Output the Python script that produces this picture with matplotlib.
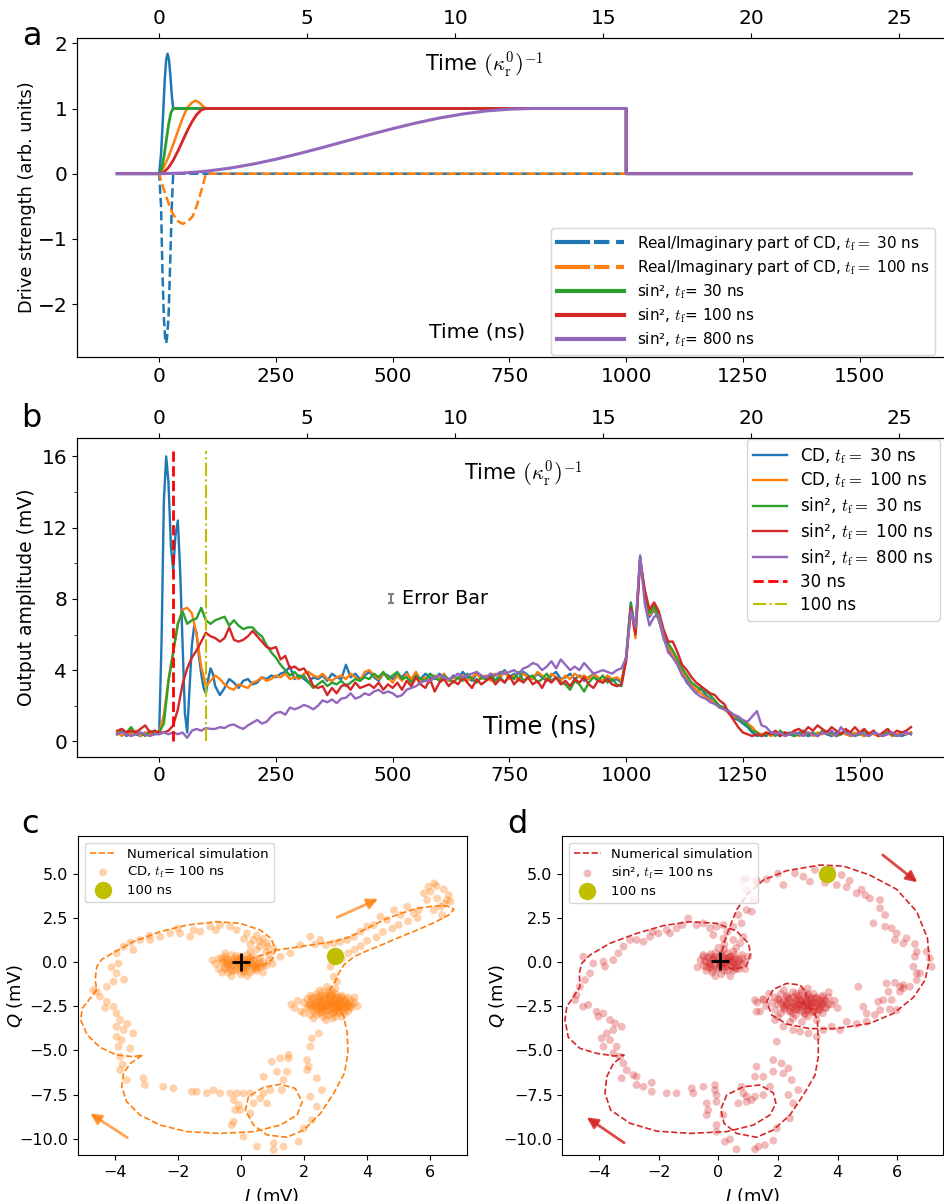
import numpy as np
import matplotlib
matplotlib.use('Agg')
import matplotlib.pyplot as plt
from matplotlib.lines import Line2D
from matplotlib.legend_handler import HandlerTuple
from matplotlib.ticker import MultipleLocator

plt.rcParams['font.family'] = ['DejaVu Sans']
plt.rcParams['mathtext.fontset'] = 'cm'

C0, C1, C2, C3, C4 = '#1f77b4', '#ff7f0e', '#2ca02c', '#d62728', '#9467bd'
NS_PER_KAPPA = 63.4

# ---------------- panel a : drive pulses ----------------
a_t_cd30 = [-90, 0, 4, 8, 12, 15, 18, 21, 24, 27, 30, 1000, 1000, 1610]
a_re_cd30 = [0, 0, 0.3, 0.85, 1.45, 1.75, 1.84, 1.75, 1.5, 1.2, 1.0, 1.0, 0, 0]
a_t_cd30_im = [-90, 0, 4, 7, 10, 13, 15, 17, 20, 23, 27, 30, 1610]
a_im_cd30 = [0, 0, -0.5, -1.5, -2.2, -2.55, -2.6, -2.5, -2.2, -1.5, -0.5, 0, 0]
a_t_cd100 = [-90, 0, 10, 20, 30, 40, 50, 60, 70, 78, 86, 93, 100, 1000, 1000, 1610]
a_re_cd100 = [0, 0, 0.1, 0.26, 0.45, 0.65, 0.85, 1.01, 1.09, 1.12, 1.09, 1.04, 1.0, 1.0, 0, 0]
a_t_cd100_im = [-90, 0, 8, 15, 26, 38, 50, 62, 72, 80, 87, 94, 100, 1610]
a_im_cd100 = [0, 0, -0.2, -0.35, -0.57, -0.72, -0.77, -0.73, -0.65, -0.5, -0.34, -0.17, 0, 0]
a_t_s30 = [-90, 0, 5, 10, 15, 20, 25, 30, 1000, 1000, 1610]
a_s30 = [0, 0, 0.067, 0.25, 0.5, 0.75, 0.933, 1, 1, 0, 0]
a_t_s100 = [-90, 0, 10, 20, 30, 40, 50, 60, 70, 80, 90, 100, 1000, 1000, 1610]
a_s100 = [0, 0, 0.024, 0.095, 0.206, 0.345, 0.5, 0.655, 0.794, 0.905, 0.976, 1, 1, 0, 0]
a_t_s800 = [-90, 0, 50, 100, 150, 200, 250, 300, 350, 400, 450, 500, 550, 600, 650,
            700, 750, 800, 1000, 1000, 1610]
a_s800 = [0, 0, 0.0096, 0.038, 0.084, 0.146, 0.222, 0.309, 0.402, 0.5, 0.598, 0.691,
          0.778, 0.854, 0.916, 0.962, 0.990, 1, 1, 0, 0]

a_labels = [r'Real/Imaginary part of CD, $t_\mathrm{f} =$ 30 ns',
            r'Real/Imaginary part of CD, $t_\mathrm{f} =$ 100 ns',
            'sin\u00b2, $t_\\mathrm{f}$= 30 ns',
            'sin\u00b2, $t_\\mathrm{f}$= 100 ns',
            'sin\u00b2, $t_\\mathrm{f}$= 800 ns']

# ---------------- panel b : output amplitude ----------------
b_t = np.arange(-90, 1611, 10)
b_t_cd30_early = np.arange(0, 121, 5)
b_cd30_pre = [0.4, 0.6, 0.3, 0.5, 0.4, 0.3, 0.5, 0.4, 0.6]
b_cd30_early = [0.5, 5.5, 13.5, 16.0, 14.5, 11.0, 9.6, 11.6, 12.4, 9.5, 5.5, 1.6, 0.5,
                3.0, 5.4, 6.5, 6.1, 4.8, 3.8, 3.0, 2.7, 3.5, 4.1, 3.8, 3.1]
b_cd30_late = [2.6, 3.0, 3.5, 3.3, 3.0, 3.4, 3.5,
               3.2, 3.3, 3.6, 3.5, 3.7, 3.6, 3.8, 3.9, 4.2, 3.5,
               3.7, 3.5, 3.3, 3.6, 3.5, 3.7, 3.4, 3.8, 3.6, 3.5,
               4.3, 3.6, 3.8, 3.5, 3.7, 3.9, 3.6, 3.4, 3.8, 3.7,
               3.5, 3.8, 3.6, 3.9, 3.4, 3.7, 3.5, 3.8, 3.6, 3.5,
               3.8, 3.6, 3.4, 3.7, 3.5, 3.9, 3.6, 3.4, 3.8, 3.6,
               3.5, 3.7, 3.4, 3.8, 4.0, 3.6, 3.8, 3.5, 3.9, 3.7,
               3.5, 3.8, 3.6, 3.4, 3.7, 3.9, 3.5, 3.6, 3.8, 3.5,
               3.7, 3.4, 3.6, 3.8, 3.5, 3.3, 3.6, 3.4, 3.5, 3.3,
               4.7, 7.8, 6.2, 10.35, 8.1, 7.0, 7.4, 6.8, 5.8, 5.1,
               4.8, 4.3, 3.8, 3.3, 3.0, 2.7, 3.0, 2.6, 2.4, 2.1,
               2.0, 1.8, 1.6, 1.3, 1.2, 1.0, 0.8, 0.5, 0.3, 0.4,
               0.3, 0.5, 0.4, 0.3, 0.5, 0.4, 0.3, 0.5, 0.4, 0.3,
               0.4, 0.3, 0.5, 0.4, 0.3, 0.5, 0.4, 0.6, 0.3, 0.4,
               0.5, 0.3, 0.4, 0.6, 0.3, 0.4, 0.5, 0.3, 0.4, 0.3,
               0.4, 0.5]
b_cd100 = [0.5, 0.3, 0.5, 0.4, 0.6, 0.3, 0.5, 0.4, 0.5,
           0.5, 1.5, 3.5, 5.0, 6.6, 7.4, 7.5, 7.2, 6.0, 4.2,
           3.1, 3.4, 3.7, 3.5, 3.2, 3.0, 2.9, 3.2, 3.1, 3.0,
           3.3, 3.4, 3.6, 3.4, 3.5, 3.7, 3.6, 3.8, 3.5, 3.6,
           3.5, 3.8, 3.9, 3.7, 3.6, 3.8, 3.5, 3.4, 3.6, 3.7,
           3.5, 3.8, 3.6, 3.4, 3.9, 4.0, 3.7, 3.5, 3.8, 3.6,
           3.3, 3.7, 3.4, 3.8, 3.5, 3.9, 3.4, 3.6, 3.3, 3.7,
           3.5, 3.8, 3.4, 3.6, 3.5, 3.7, 3.4, 3.6, 3.8, 3.5,
           3.7, 3.4, 3.8, 3.6, 3.9, 3.5, 3.7, 3.4, 3.8, 3.6,
           3.5, 3.9, 3.7, 3.5, 3.8, 3.6, 3.4, 3.7, 3.5, 3.8,
           3.6, 3.7, 3.5, 3.8, 3.6, 3.4, 3.7, 3.5, 3.6, 3.4,
           4.6, 7.6, 5.8, 10.2, 8.2, 7.1, 7.5, 6.9, 5.9, 5.3,
           4.9, 4.4, 3.9, 3.5, 3.2, 2.9, 2.7, 2.5, 2.3, 2.2,
           1.9, 1.8, 1.6, 1.4, 1.3, 1.1, 1.0, 0.8, 0.5, 0.4,
           0.5, 0.3, 0.4, 0.5, 0.3, 0.4, 0.6, 0.3, 0.4, 0.5,
           0.3, 0.5, 0.4, 0.6, 0.4, 0.3, 0.5, 0.4, 0.3, 0.5,
           0.4, 0.3, 0.5, 0.4, 0.3, 0.4, 0.5, 0.3, 0.4, 0.5,
           0.4, 0.5]
b_s30 = [0.4, 0.6, 0.5, 0.8, 0.4, 0.5, 0.3, 0.6, 0.4,
         0.5, 1.0, 3.4, 5.0, 6.6, 7.3, 6.6, 6.8, 6.9, 7.5,
         6.8, 6.6, 6.8, 6.9, 7.0, 6.5, 6.8, 6.5, 6.3, 6.4,
         6.4, 6.1, 5.9, 5.4, 5.0, 4.7, 4.3, 4.0, 3.7, 3.9,
         3.6, 3.7, 3.3, 3.0, 3.2, 3.4, 3.1, 3.3, 3.2, 3.4,
         3.1, 3.3, 3.5, 3.4, 3.6, 3.5, 3.8, 3.6, 3.9, 3.5,
         3.7, 3.9, 3.5, 3.6, 3.3, 3.7, 3.5, 3.4, 3.8, 3.6,
         3.4, 3.7, 3.5, 3.3, 3.6, 3.4, 3.8, 3.5, 3.3, 3.6,
         3.5, 3.8, 3.4, 3.6, 3.3, 3.7, 3.5, 3.9, 3.4, 3.6,
         3.7, 3.3, 3.5, 3.8, 3.4, 3.6, 3.3, 3.2, 2.9, 3.4,
         3.2, 2.8, 3.3, 3.6, 3.4, 3.7, 3.3, 3.5, 3.2, 3.1,
         4.8, 7.7, 6.1, 10.3, 8.3, 7.2, 7.6, 7.0, 6.1, 5.5,
         5.1, 4.6, 4.1, 3.7, 3.3, 3.1, 2.9, 2.8, 2.6, 2.3,
         2.0, 1.9, 1.7, 1.5, 1.3, 1.1, 0.9, 0.6, 0.5, 0.3,
         0.4, 0.5, 0.3, 0.6, 0.4, 0.5, 0.3, 0.4, 0.6, 0.4,
         0.5, 0.3, 0.6, 0.4, 0.5, 0.3, 0.4, 0.6, 0.5, 0.3,
         0.4, 0.6, 0.3, 0.5, 0.4, 0.3, 0.5, 0.4, 0.3, 0.4,
         0.5, 0.4]
b_s100 = [0.6, 0.7, 0.5, 0.6, 0.5, 0.7, 0.9, 0.5, 0.6,
          0.5, 0.5, 0.6, 0.9, 1.8, 3.2, 4.1, 4.7, 5.1, 5.6,
          6.1, 5.9, 5.8, 5.6, 5.8, 6.4, 5.7, 5.6, 5.7, 5.9,
          6.2, 5.9, 5.6, 5.3, 5.2, 5.3, 4.6, 4.8, 4.1, 4.2,
          4.0, 4.1, 3.7, 3.1, 3.0, 3.1, 2.6, 3.0, 2.7, 3.1,
          3.2, 2.9, 3.3, 3.0, 3.1, 3.2, 3.0, 3.3, 2.9, 3.2,
          3.0, 3.3, 2.9, 3.4, 3.1, 3.6, 3.2, 3.0, 3.5, 2.8,
          3.3, 3.5, 3.1, 3.4, 3.2, 3.6, 3.3, 3.0, 3.5, 3.2,
          3.4, 3.6, 3.2, 3.5, 3.3, 3.7, 3.2, 3.5, 3.3, 3.6,
          3.2, 3.4, 3.0, 3.5, 3.3, 3.6, 3.2, 3.4, 3.1, 3.5,
          3.3, 3.6, 3.2, 3.0, 3.4, 3.3, 3.5, 3.2, 3.1, 3.2,
          4.5, 7.5, 6.0, 10.2, 8.5, 7.4, 7.8, 7.3, 6.3, 5.6,
          5.6, 5.0, 4.3, 4.0, 3.6, 3.3, 3.1, 2.9, 2.7, 2.6,
          2.3, 2.1, 1.6, 1.2, 0.8, 0.5, 0.4, 0.3, 0.4, 0.3,
          0.5, 0.4, 0.6, 0.3, 0.5, 0.4, 0.6, 0.7, 0.5, 0.8,
          0.6, 0.9, 0.7, 0.5, 0.8, 0.6, 0.4, 0.7, 0.5, 0.8,
          0.5, 0.7, 0.4, 0.6, 0.3, 0.5, 0.7, 0.4, 0.6, 0.5,
          0.6, 0.8]
b_s800 = [0.4, 0.5, 0.4, 0.3, 0.4, 0.5, 0.4, 0.3, 0.4,
          0.4, 0.5, 0.4, 0.5, 0.4, 0.5, 0.2, 0.6, 0.7, 0.6,
          0.75, 0.7, 0.7, 0.8, 0.75, 0.9, 0.95, 0.8, 0.7, 0.9,
          1.05, 1.2, 1.0, 1.1, 1.4, 1.6, 1.65, 1.5, 1.9, 1.8,
          1.9, 2.05, 1.95, 1.8, 2.0, 2.3, 2.2, 2.35, 2.15, 2.4,
          2.45, 2.7, 2.4, 2.5, 2.7, 2.6, 2.8, 2.9, 2.7, 2.8,
          2.7, 2.5, 2.6, 2.9, 3.0, 3.1, 3.3, 3.4, 3.4, 3.6,
          3.7, 3.6, 3.5, 3.6, 3.8, 3.6, 3.7, 3.8, 3.9, 3.7,
          3.6, 3.8, 3.7, 3.9, 3.8, 3.9, 4.0, 3.8, 4.1, 4.2,
          4.4, 4.3, 4.0, 4.2, 4.5, 4.1, 4.6, 4.3, 4.0, 4.2,
          4.0, 4.4, 4.1, 3.8, 3.9, 4.0, 3.9, 3.8, 4.0, 4.1,
          4.7, 7.3, 6.4, 10.45, 7.7, 6.5, 7.0, 7.1, 6.0, 5.0,
          4.7, 4.3, 3.7, 3.4, 3.0, 2.7, 2.5, 2.4, 2.2, 2.1,
          1.9, 1.8, 1.7, 1.5, 1.4, 1.2, 1.1, 1.4, 1.7, 0.9,
          0.8, 0.5, 0.4, 0.5, 0.3, 0.4, 0.5, 0.4, 0.3, 0.5,
          0.4, 0.3, 0.5, 0.4, 0.6, 0.3, 0.8, 0.5, 0.4, 0.3,
          0.5, 0.4, 0.3, 0.5, 0.4, 0.3, 0.4, 0.5, 0.3, 0.4,
          0.5, 0.4]
b_labels = [r'CD, $t_\mathrm{f} =$ 30 ns', r'CD, $t_\mathrm{f} =$ 100 ns',
            'sin\u00b2, $t_\\mathrm{f} =$ 30 ns', 'sin\u00b2, $t_\\mathrm{f} =$ 100 ns',
            'sin\u00b2, $t_\\mathrm{f} =$ 800 ns', '30 ns', '100 ns']
b_vline_times = [30, 100]
b_vline_top = 16.3
b_err_t, b_err_v, b_err_e = 497, 8.0, 0.25

# ---------------- panel c : CD, tf = 100 ns in IQ plane ----------------
c_sim = [(0, 0), (0.51, 0.30), (1.14, 0.68), (1.88, 0.87), (2.94, 1.15), (3.47, 1.43),
         (4.0, 1.91), (4.53, 2.38), (5.06, 2.75), (5.59, 3.04), (6.12, 3.17), (6.54, 3.17),
         (6.75, 2.98), (6.59, 2.66), (6.12, 2.23), (5.59, 1.81), (5.06, 1.43), (4.53, 1.02),
         (4.0, 0.64), (3.58, 0.30), (3.26, -0.17), (3.10, -0.64), (2.99, -1.11), (2.84, -1.49),
         (2.73, -1.96), (2.8, -2.3), (3.1, -2.6), (3.26, -3.09), (3.37, -4.04), (3.39, -5.17),
         (3.28, -6.30), (2.94, -7.43), (2.52, -8.57), (1.99, -9.51), (1.46, -9.92), (0.83, -9.79),
         (0.40, -9.23), (0.14, -8.38), (0.24, -7.62), (0.72, -7.09), (1.25, -6.92), (1.72, -7.15),
         (1.94, -7.91), (1.78, -8.66), (1.25, -9.23), (0.40, -9.60), (-0.66, -9.70), (-1.71, -9.60),
         (-2.56, -9.23), (-3.20, -8.66), (-3.62, -7.91), (-3.78, -7.06), (-3.72, -6.30),
         (-3.51, -5.74), (-3.11, -5.26), (-3.41, -5.36), (-3.94, -5.26), (-4.47, -4.83),
         (-4.87, -4.13), (-5.08, -3.28), (-5.03, -2.62), (-4.78, -2.06), (-4.57, -1.58),
         (-4.62, -1.02), (-4.57, -0.26), (-4.41, 0.15), (-4.04, 0.53), (-3.41, 1.15),
         (-2.56, 1.72), (-1.71, 2.09), (-0.76, 2.28), (-0.02, 2.19), (0.61, 1.81), (0.95, 1.34),
         (1.09, 0.77), (1.02, 0.21), (0.77, -0.17), (0.40, -0.26), (0.08, -0.11)]
c_traj = [(5.94, 4.26), (6.12, 4.45), (6.01, 3.98), (6.43, 4.11), (6.22, 3.60), (6.54, 3.51),
          (6.33, 3.13), (6.12, 2.94), (5.90, 3.51), (5.80, 3.89), (6.65, 3.42), (6.59, 3.79),
          (6.38, 2.66), (6.20, 4.30), (6.45, 3.30),
          (5.64, 2.94), (5.48, 2.75), (5.27, 3.13), (5.06, 2.66), (4.85, 2.94), (4.63, 2.38),
          (4.42, 2.57), (4.21, 2.09), (4.00, 2.00), (3.79, 1.72), (3.58, 1.43), (3.37, 1.25),
          (3.15, 1.15), (2.94, 1.06), (2.52, 1.25), (2.20, 1.43), (1.88, 0.96), (1.57, 0.49),
          (1.25, 0.30), (1.04, 0.77), (0.83, 1.06), (2.70, 0.95), (2.35, 1.00),
          (5.60, 2.50), (5.30, 2.30), (5.00, 2.10), (4.80, 1.90), (4.50, 1.70), (4.30, 1.40),
          (4.00, 1.20), (3.80, 0.90), (3.60, 0.70), (3.40, 0.50), (3.20, 0.20), (2.84, -0.26),
          (2.94, -0.83), (3.05, -1.11), (2.73, -1.40), (2.89, -1.68),
          (-3.72, 0.87), (-3.41, 0.68), (-3.20, 1.25), (-2.88, 1.25), (-2.56, 1.43), (-2.24, 1.62),
          (-1.93, 1.62), (-1.61, 1.43), (-1.29, 1.72), (-0.97, 2.00), (-0.66, 2.09), (-0.34, 2.00),
          (-0.13, 1.81), (0.19, 1.62), (0.40, 1.25), (0.61, 1.15), (0.83, 0.87), (-2.00, 1.90),
          (-1.50, 1.80), (-0.80, 1.80), (0.50, 1.50), (0.70, 1.30), (0.30, 1.00), (0.10, 1.30),
          (-2.90, 1.50), (-3.50, 1.10), (0.60, 0.90), (0.80, 0.60), (0.50, 0.70), (0.90, 0.40),
          (-3.94, 0.49), (-3.88, -0.08), (-3.94, -0.64), (-4.04, -1.11), (-4.25, -1.40),
          (-4.57, -1.68), (-4.68, -1.58), (-4.47, -1.96), (-4.25, -2.25), (-4.04, -2.53),
          (-3.94, -2.91), (-3.83, -3.28), (-3.94, -3.66), (-3.72, -3.85), (-3.94, -4.23),
          (-3.78, -4.42), (-3.41, -4.04), (-3.51, -4.89), (-3.88, -4.79), (-3.83, -5.36),
          (-3.83, -6.11), (-3.62, -6.68), (-3.09, -6.58), (-3.04, -6.96), (-4.10, -0.30),
          (-3.70, -1.00), (-4.30, -2.60), (-3.60, -3.50), (-3.75, -5.80),
          (-2.46, -7.06), (-2.14, -7.15), (-1.56, -7.34), (-1.40, -7.34), (-1.08, -7.43),
          (-0.87, -7.25), (-0.66, -7.43), (-0.34, -7.43), (-0.13, -7.43), (0.08, -7.43),
          (0.30, -7.43), (-0.23, -7.81), (-0.07, -8.09), (-0.02, -8.38), (-0.18, -8.38),
          (0.30, -8.57), (-0.23, -9.04), (-0.29, -9.23), (0.08, -9.89), (0.51, -10.45),
          (1.04, -10.26), (1.04, -10.64), (1.35, -10.45), (1.83, -10.17), (1.99, -9.42),
          (2.25, -8.94), (2.41, -8.19), (2.20, -7.62), (2.57, -7.25), (2.41, -6.58),
          (2.10, -6.11), (2.10, -5.55), (2.15, -5.92), (2.20, -4.79), (2.25, -4.32), (2.47, -4.04),
          (0.72, -6.49), (0.98, -5.64), (1.25, -5.45), (1.51, -5.26), (1.51, -5.45), (1.14, -6.21),
          (1.46, -6.21), (1.35, -6.68), (1.30, -7.25), (0.72, -7.43), (0.83, -8.00), (0.61, -7.72),
          (0.40, -8.00), (0.93, -7.25)]
c_origin = [(-0.8, -0.1), (-0.7, 0.2), (-0.7, -0.4), (-0.6, 0.0), (-0.5, -0.3), (-0.5, 0.3),
            (-0.4, -0.6), (-0.4, 0.1), (-0.3, -0.2), (-0.3, 0.4), (-0.2, -0.5), (-0.2, 0.0),
            (-0.1, -0.3), (-0.1, 0.2), (0.0, -0.7), (0.0, -0.1), (0.0, 0.3), (0.1, -0.4),
            (0.1, 0.1), (0.2, -0.2), (0.2, 0.4), (0.3, -0.6), (0.3, 0.0), (0.4, -0.3), (0.4, 0.3),
            (0.5, -0.1), (0.5, -0.5), (0.6, 0.2), (0.6, -0.3), (0.7, 0.0), (0.8, -0.2), (0.9, 0.1),
            (-0.9, 0.1), (-0.6, -0.6), (0.2, -0.8), (-0.3, -0.8), (0.7, -0.6), (1.0, -0.1),
            (0.3, 0.6), (-0.5, 0.5), (-0.25, -0.15), (0.15, -0.25), (-0.05, 0.05), (0.35, -0.15),
            (-0.45, -0.05), (0.05, -0.5), (0.25, 0.2), (-0.15, 0.35)]
c_origin_core = [(-0.55, -0.05), (-0.45, 0.15), (-0.35, -0.35), (-0.25, 0.05), (-0.15, -0.45),
                 (-0.05, -0.15), (0.05, 0.15), (0.15, -0.35), (0.25, -0.05), (0.35, -0.45),
                 (0.45, 0.05), (0.55, -0.25), (-0.4, -0.2), (-0.2, 0.2), (0.0, -0.3), (0.2, 0.1),
                 (0.4, -0.1), (0.6, 0.0), (-0.6, 0.2), (-0.3, -0.5), (0.1, -0.6), (0.5, -0.4),
                 (-0.1, 0.0), (0.3, 0.2), (-0.5, -0.4), (0.7, -0.2), (0.0, 0.15), (-0.35, 0.0),
                 (0.15, -0.15), (0.45, -0.3)]
c_steady = [(2.0, -2.3), (2.1, -2.1), (2.1, -2.6), (2.2, -1.9), (2.2, -2.4), (2.3, -2.8),
            (2.3, -2.2), (2.4, -1.8), (2.4, -2.5), (2.4, -3.0), (2.5, -2.0), (2.5, -2.3),
            (2.5, -2.7), (2.6, -1.7), (2.6, -2.2), (2.6, -2.5), (2.6, -3.1), (2.7, -1.9),
            (2.7, -2.4), (2.7, -2.8), (2.8, -1.6), (2.8, -2.1), (2.8, -2.5), (2.8, -3.0),
            (2.9, -1.9), (2.9, -2.3), (2.9, -2.7), (3.0, -1.8), (3.0, -2.2), (3.0, -2.6),
            (3.0, -3.1), (3.1, -2.0), (3.1, -2.4), (3.1, -2.8), (3.2, -1.9), (3.2, -2.3),
            (3.2, -2.6), (3.3, -2.1), (3.3, -2.5), (3.3, -2.9), (3.4, -2.0), (3.4, -2.4),
            (3.5, -2.2), (3.5, -2.6), (3.6, -2.3), (3.7, -2.5), (1.7, -2.6), (1.9, -2.8),
            (2.3, -3.2), (2.9, -3.2), (3.4, -2.8), (3.6, -2.0), (1.6, -2.4), (2.0, -2.9),
            (2.5, -1.6), (3.0, -1.5), (2.2, -3.0), (3.2, -3.1), (2.7, -3.3), (1.8, -2.2),
            (2.15, -2.45), (2.25, -2.05), (2.35, -2.65), (2.45, -2.25), (2.55, -2.85),
            (2.65, -2.05), (2.75, -2.65), (2.85, -2.25), (2.95, -2.85), (3.05, -2.45),
            (3.15, -2.15), (3.25, -2.75), (3.35, -2.35), (3.45, -2.55), (2.55, -2.45),
            (2.95, -2.05), (3.05, -2.65), (2.65, -2.55), (2.85, -1.85), (2.45, -1.95)]
c_steady_core = [(2.2, -2.3), (2.3, -2.5), (2.4, -2.3), (2.5, -2.5), (2.6, -2.3), (2.7, -2.5),
                 (2.8, -2.3), (2.9, -2.4), (3.0, -2.4), (3.1, -2.3), (3.2, -2.5), (3.3, -2.3),
                 (3.4, -2.5), (2.3, -2.0), (2.5, -2.1), (2.7, -2.1), (2.9, -2.1), (3.1, -2.2),
                 (3.3, -2.2), (2.4, -2.7), (2.6, -2.7), (2.8, -2.7), (3.0, -2.8), (3.2, -2.7),
                 (2.5, -2.9), (2.7, -3.0), (2.9, -2.9), (3.1, -2.9), (2.6, -1.9), (2.8, -1.8),
                 (3.0, -2.0), (3.2, -2.0), (2.2, -2.6), (3.5, -2.4), (2.35, -2.4), (2.75, -2.35),
                 (3.15, -2.45), (2.55, -2.6), (2.95, -2.6), (3.35, -2.6)]
c_mark_100 = (2.98, 0.35)
c_arrows = [((3.05, 2.53), (4.35, 3.57)), ((-3.60, -9.94), (-4.78, -8.57))]

# ---------------- panel d : sin^2, tf = 100 ns in IQ plane ----------------
d_sim = [(0.06, 0.11), (0.19, 1.06), (0.34, 1.81), (0.61, 2.94), (0.95, 3.79), (1.51, 4.64),
         (2.29, 5.17), (3.41, 5.49), (4.19, 5.43), (5.08, 4.92), (5.98, 4.11), (6.65, 2.85),
         (7.01, 1.34), (7.07, 0.11), (6.93, -1.02), (6.54, -2.0), (5.87, -2.91), (5.08, -3.47),
         (3.97, -3.77), (3.07, -3.77), (2.29, -3.51), (1.79, -3.0), (1.62, -2.25), (1.84, -1.55),
         (2.29, -1.21), (2.74, -1.30), (2.96, -1.77), (2.85, -2.34), (3.18, -2.72), (3.32, -3.28),
         (3.35, -4.42), (3.35, -5.36), (3.24, -6.40), (2.85, -7.53), (2.40, -8.66), (1.84, -9.51),
         (1.28, -9.92), (0.61, -9.70), (0.19, -9.13), (0.08, -8.34), (0.28, -7.53), (0.84, -7.06),
         (1.40, -6.96), (1.84, -7.40), (1.93, -8.0), (1.73, -8.66), (1.17, -9.23), (0.28, -9.60),
         (-0.95, -9.70), (-2.07, -9.57), (-2.96, -9.13), (-3.61, -8.38), (-3.80, -7.43),
         (-3.74, -6.49), (-3.52, -5.74), (-3.16, -5.26), (-3.46, -5.32), (-4.08, -5.17),
         (-4.64, -4.89), (-5.03, -4.26), (-5.14, -3.28), (-5.08, -2.53), (-4.84, -1.92),
         (-4.64, -1.40), (-4.66, -0.64), (-4.58, -0.08), (-4.30, 0.40), (-3.63, 1.06),
         (-2.74, 1.62), (-1.84, 2.06), (-0.95, 2.28), (-0.06, 2.19), (0.61, 1.75), (1.01, 1.06),
         (1.08, 0.45), (0.93, -0.26), (0.50, -0.42), (0.17, -0.17)]
d_traj = [(0.95, 4.74), (1.28, 4.64), (1.62, 4.68), (2.18, 4.36), (2.57, 5.02), (2.85, 4.83),
          (3.07, 4.55), (3.24, 5.21), (3.58, 4.49), (3.97, 4.36), (4.13, 4.92), (4.30, 4.23),
          (4.64, 3.89), (4.92, 3.79), (5.08, 3.60), (5.42, 3.51), (5.42, 3.04), (5.59, 2.66),
          (5.20, 2.19), (5.59, 2.00), (5.81, 1.91), (5.98, 1.62), (5.92, 1.25), (6.20, 1.06),
          (6.31, 1.34), (6.59, 1.02), (6.65, 0.58), (6.98, 0.58), (7.09, 0.21), (7.15, -0.26),
          (6.76, -0.64), (6.65, -1.02), (6.42, -1.40), (6.20, -1.49), (6.09, -1.40), (5.92, -1.17),
          (5.64, -1.21), (5.70, -1.68), (5.53, -2.15), (5.36, -2.25), (5.42, -2.72), (5.75, -2.68),
          (5.98, -2.72), (5.25, -3.00), (4.97, -3.38), (4.64, -3.51), (4.30, -3.38), (4.08, -3.85),
          (3.80, -3.66), (3.52, -3.85), (3.30, -4.23), (3.02, -4.04), (2.74, -3.94), (2.51, -3.85),
          (2.18, -3.66), (1.90, -3.28), (1.28, -2.81), (1.23, -2.15), (1.51, -2.15), (4.69, -1.40),
          (4.86, -2.53), (4.97, -2.91), (5.81, -2.15), (6.09, -1.68), (6.20, -1.30), (6.65, -0.64),
          (6.59, 0.30), (6.54, -0.26), (4.40, 4.60), (3.80, 5.20), (2.00, 5.00), (4.80, 4.10),
          (0.84, 4.64), (0.95, 4.08), (1.17, 3.51), (1.12, 2.85), (0.95, 2.94), (0.67, 2.66),
          (1.28, 4.55),
          (-4.53, 0.30), (-4.19, -0.08), (-3.85, 0.02), (-3.80, -0.26), (-3.52, 0.11),
          (-3.35, 0.49), (-3.18, 0.87), (-2.96, 1.25), (-2.74, 1.25), (-2.51, 1.15), (-2.29, 1.43),
          (-2.01, 1.62), (-1.73, 1.81), (-1.62, 1.62), (-1.40, 1.91), (-1.01, 2.47), (-0.73, 2.09),
          (-0.50, 2.19), (-0.28, 1.91), (-0.06, 2.00), (0.17, 2.09), (0.50, 2.00), (0.78, 2.19),
          (-0.17, 1.53), (0.17, 1.34), (0.50, 1.25), (0.73, 1.06), (0.84, 1.43), (-2.20, 1.70),
          (-1.20, 2.10), (0.30, 1.70),
          (-4.30, -0.64), (-4.47, -1.02), (-4.64, -1.40), (-4.75, -1.87), (-4.80, -2.15),
          (-4.53, -2.53), (-4.36, -2.43), (-4.08, -2.81), (-4.02, -3.09), (-3.85, -2.91),
          (-3.63, -3.28), (-3.46, -3.47), (-3.24, -3.66), (-3.52, -3.85), (-3.74, -4.04),
          (-3.91, -4.32), (-3.63, -4.42), (-3.85, -4.79), (-3.41, -4.79), (-3.52, -5.17),
          (-3.30, -5.36), (-3.18, -5.74), (-3.07, -6.13), (-3.24, -6.58), (-2.85, -6.40),
          (-2.74, -6.49), (-2.74, -6.96), (-2.51, -7.06), (-2.23, -6.83), (-2.23, -7.34),
          (-1.73, -7.43), (-1.40, -7.43), (-0.89, -7.15), (-0.50, -7.06), (-0.84, -7.43),
          (-0.11, -6.96), (-0.11, -7.25), (-0.39, -8.00), (-0.34, -8.38), (-0.06, -7.91),
          (-0.06, -7.53), (0.17, -8.66), (-0.06, -9.23), (-0.39, -8.66), (-0.06, -9.60),
          (0.22, -10.17), (0.39, -10.04), (0.61, -10.60), (1.23, -10.60), (1.34, -10.45),
          (1.56, -10.36), (1.84, -10.11), (1.96, -9.42), (2.40, -8.85), (2.51, -8.00),
          (2.35, -7.53), (2.68, -7.25), (2.46, -6.68), (2.18, -6.30), (2.35, -6.02), (2.12, -5.74),
          (1.84, -5.55), (1.84, -6.21), (1.96, -4.51), (1.28, -5.92), (1.51, -6.49), (1.23, -6.49),
          (1.73, -7.06), (1.51, -7.53), (1.23, -7.62), (0.95, -7.62), (0.84, -7.43), (0.67, -8.00),
          (0.95, -7.91), (1.12, -7.81), (0.78, -7.06)]
d_origin = [(-0.6, 0.1), (-0.5, -0.2), (-0.5, 0.4), (-0.4, 0.0), (-0.4, -0.5), (-0.3, 0.3),
            (-0.3, -0.3), (-0.2, 0.1), (-0.2, -0.6), (-0.1, -0.2), (-0.1, 0.5), (0.0, 0.1),
            (0.0, -0.4), (0.1, -0.1), (0.1, 0.4), (0.1, -0.7), (0.2, 0.2), (0.2, -0.3), (0.3, 0.0),
            (0.3, -0.5), (0.3, 0.5), (0.4, -0.2), (0.4, 0.3), (0.5, 0.0), (0.5, -0.5), (0.6, 0.2),
            (0.6, -0.3), (0.7, 0.1), (0.7, -0.4), (0.8, 0.4), (0.8, -0.1), (0.9, 0.0), (1.0, 0.3),
            (-0.7, -0.3), (0.2, 0.7), (0.5, 0.6), (-0.1, -0.8), (0.4, -0.8), (0.9, -0.4), (0.0, 0.8),
            (0.6, 0.8), (0.2, 1.0), (-0.15, 0.25), (0.25, -0.1), (0.05, -0.2), (0.45, 0.1),
            (-0.25, -0.1), (0.35, 0.25), (0.15, 0.05), (0.55, -0.2)]
d_origin_core = [(-0.45, 0.05), (-0.35, 0.25), (-0.25, -0.25), (-0.15, 0.15), (-0.05, -0.35),
                 (0.05, -0.05), (0.15, 0.25), (0.25, -0.25), (0.35, 0.05), (0.45, -0.35),
                 (0.55, 0.15), (0.65, -0.15), (-0.3, -0.1), (-0.1, 0.3), (0.1, -0.2), (0.3, 0.2),
                 (0.5, -0.1), (0.7, 0.0), (-0.5, 0.3), (-0.2, -0.45), (0.2, -0.5), (0.6, -0.4),
                 (0.0, 0.0), (0.4, 0.3), (-0.4, -0.3), (0.8, 0.2), (0.1, 0.45), (-0.25, 0.45),
                 (0.25, 0.05), (0.55, 0.4)]
d_steady = [(1.8, -2.3), (1.9, -2.0), (1.9, -2.7), (2.0, -2.4), (2.1, -1.8), (2.1, -2.9),
            (2.2, -2.2), (2.2, -2.6), (2.3, -1.9), (2.3, -2.4), (2.4, -2.8), (2.4, -2.1),
            (2.5, -1.7), (2.5, -2.5), (2.6, -2.2), (2.6, -3.0), (2.7, -1.9), (2.7, -2.4),
            (2.7, -2.7), (2.8, -1.6), (2.8, -2.2), (2.9, -2.5), (2.9, -2.9), (3.0, -1.9),
            (3.0, -2.3), (3.0, -2.7), (3.1, -2.1), (3.1, -2.5), (3.2, -1.8), (3.2, -2.3),
            (3.2, -2.8), (3.3, -2.0), (3.3, -2.5), (3.4, -2.2), (3.4, -2.7), (3.5, -1.9),
            (3.5, -2.4), (3.6, -2.2), (3.6, -2.6), (3.7, -2.0), (3.8, -2.4), (1.6, -2.5),
            (1.5, -2.1), (2.0, -3.1), (2.5, -3.2), (3.0, -3.1), (3.5, -2.9), (3.9, -2.2),
            (2.2, -1.6), (3.0, -1.5), (1.4, -2.8), (1.7, -1.8), (3.7, -1.7), (2.8, -3.4),
            (2.4, -3.4), (3.3, -3.3), (4.0, -2.6), (1.3, -2.3),
            (2.05, -2.15), (2.25, -2.45), (2.35, -2.05), (2.55, -2.35), (2.65, -2.65),
            (2.75, -2.15), (2.85, -2.45), (2.95, -2.15), (3.05, -2.55), (3.15, -2.35),
            (3.25, -2.05), (3.35, -2.65), (3.45, -2.35), (2.45, -2.6), (2.95, -2.75),
            (3.15, -2.85), (2.65, -1.95), (3.55, -2.15)]
d_steady_core = [(2.1, -2.3), (2.2, -2.5), (2.3, -2.3), (2.4, -2.5), (2.5, -2.3), (2.6, -2.5),
                 (2.7, -2.3), (2.8, -2.4), (2.9, -2.3), (3.0, -2.5), (3.1, -2.3), (3.2, -2.5),
                 (3.3, -2.3), (3.4, -2.5), (3.5, -2.3), (2.3, -2.0), (2.5, -2.0), (2.7, -2.1),
                 (2.9, -2.0), (3.1, -2.0), (3.3, -2.1), (3.5, -2.0), (2.2, -2.7), (2.4, -2.8),
                 (2.6, -2.7), (2.8, -2.8), (3.0, -2.7), (3.2, -2.8), (3.4, -2.7), (2.6, -1.8),
                 (2.8, -1.75), (3.0, -1.8), (2.5, -2.9), (2.9, -3.0), (3.3, -2.95), (3.7, -2.4),
                 (2.0, -2.1), (3.6, -2.6), (2.75, -2.55), (3.05, -2.15)]
d_mark_100 = (3.63, 4.98)
d_arrows = [((5.51, 6.06), (6.67, 4.51)), ((-3.16, -10.23), (-4.41, -8.79))]

# ---------------- figure ----------------
W, H = 944, 1201
fig = plt.figure(figsize=(W / 100, H / 100), dpi=100)


def rect(l, t, r, b):
    return [l / W, 1 - b / H, (r - l) / W, (b - t) / H]


ax_a = fig.add_axes(rect(77, 37.7, 946, 357.3))
ax_b = fig.add_axes(rect(77, 437.7, 946, 756.7))
ax_c = fig.add_axes(rect(77.5, 835.7, 466.5, 1155.3))
ax_d = fig.add_axes(rect(562.3, 835.7, 943.3, 1155.3))

XLIM = (-176, 1685)
TICK_BIG = 14.5

# ---- a ----
ax_a.plot(a_t_cd30, a_re_cd30, color=C0, lw=1.8)
ax_a.plot(a_t_cd30_im, a_im_cd30, color=C0, lw=1.8, ls='--')
ax_a.plot(a_t_cd100, a_re_cd100, color=C1, lw=1.8)
ax_a.plot(a_t_cd100_im, a_im_cd100, color=C1, lw=1.8, ls='--')
ax_a.plot(a_t_s30, a_s30, color=C2, lw=2)
ax_a.plot(a_t_s100, a_s100, color=C3, lw=2)
ax_a.plot(a_t_s800, a_s800, color=C4, lw=2.2)
ax_a.set_xlim(XLIM)
ax_a.set_ylim(-2.816, 2.086)
ax_a.set_xticks([0, 250, 500, 750, 1000, 1250, 1500])
ax_a.set_yticks([-2, -1, 0, 1, 2])
ax_a.tick_params(labelsize=TICK_BIG)
ax_a.set_ylabel('Drive strength (arb. units)', fontsize=12.8)
ax_a.yaxis.set_label_coords(-0.047, 0.5)
ax_a.text(0.400, 0.9146, r'Time $\left(\kappa_\mathrm{r}^0\right)^{-1}$', transform=ax_a.transAxes,
          fontsize=15, ha='left', va='center')
ax_a.text(0.4047, 0.080, 'Time (ns)', transform=ax_a.transAxes, fontsize=14.7, ha='left', va='center')
hA = (Line2D([], [], color=C0, lw=3), Line2D([], [], color=C0, lw=3, ls='--'))
hB = (Line2D([], [], color=C1, lw=3), Line2D([], [], color=C1, lw=3, ls='--'))
hG = Line2D([], [], color=C2, lw=3)
hR = Line2D([], [], color=C3, lw=3)
hP = Line2D([], [], color=C4, lw=3)
ax_a.legend([hA, hB, hG, hR, hP], a_labels,
            handler_map={tuple: HandlerTuple(ndivide=None, pad=0.4)},
            handlelength=4.4, fontsize=11, labelspacing=0.35,
            loc='lower left', bbox_to_anchor=(551 / W, 1 - 355 / H),
            bbox_transform=fig.transFigure, borderaxespad=0)
ax_at = ax_a.twiny()
ax_at.set_xlim(XLIM[0] / NS_PER_KAPPA, XLIM[1] / NS_PER_KAPPA)
ax_at.set_xticks([0, 5, 10, 15, 20, 25])
ax_at.tick_params(labelsize=TICK_BIG)

# ---- b ----
b_t_cd30 = np.concatenate([b_t[b_t < 0], b_t_cd30_early, b_t[b_t >= 130]])
b_v_cd30 = b_cd30_pre + b_cd30_early + b_cd30_late
ax_b.plot(b_t_cd30, b_v_cd30, color=C0, lw=1.7, label=b_labels[0])
ax_b.plot(b_t, b_cd100, color=C1, lw=1.7, label=b_labels[1])
ax_b.plot(b_t, b_s30, color=C2, lw=1.7, label=b_labels[2])
ax_b.plot(b_t, b_s100, color=C3, lw=1.7, label=b_labels[3])
ax_b.plot(b_t, b_s800, color=C4, lw=1.7, label=b_labels[4])
ax_b.vlines(b_vline_times[0], 0, b_vline_top, colors='r', linestyles='--', lw=2, label=b_labels[5])
ax_b.vlines(b_vline_times[1], 0, b_vline_top, colors='y', linestyles='-.', lw=1.5, label=b_labels[6])
ax_b.errorbar([b_err_t], [b_err_v], yerr=[b_err_e], color='gray', capsize=2.5, lw=1.5, capthick=1.5)
ax_b.text(519, b_err_v, 'Error Bar', fontsize=13.8, ha='left', va='center')
ax_b.set_xlim(XLIM)
ax_b.set_ylim(-0.86, 17.05)
ax_b.set_xticks([0, 250, 500, 750, 1000, 1250, 1500])
ax_b.yaxis.set_major_locator(MultipleLocator(4))
ax_b.yaxis.set_minor_locator(MultipleLocator(2))
ax_b.tick_params(labelsize=TICK_BIG)
ax_b.set_ylabel('Output amplitude (mV)', fontsize=13.5)
ax_b.yaxis.set_label_coords(-0.047, 0.5)
ax_b.text(0.445, 0.886, r'Time $\left(\kappa_\mathrm{r}^0\right)^{-1}$', transform=ax_b.transAxes,
          fontsize=15, ha='left', va='center')
ax_b.text(0.4676, 0.094, 'Time (ns)', transform=ax_b.transAxes, fontsize=17.4, ha='left', va='center')
ax_b.legend(fontsize=12, labelspacing=0.3, loc='upper left',
            bbox_to_anchor=(746.5 / W, 1 - 439 / H), bbox_transform=fig.transFigure,
            borderaxespad=0)
ax_bt = ax_b.twiny()
ax_bt.set_xlim(XLIM[0] / NS_PER_KAPPA, XLIM[1] / NS_PER_KAPPA)
ax_bt.set_xticks([0, 5, 10, 15, 20, 25])
ax_bt.tick_params(labelsize=TICK_BIG)


# ---- c & d ----
def iq_panel(ax, sim, pts_lists, color, alpha, mark, plus, arrows, label, arrow_alpha, xlim, leg_xy, ylab_x):
    sim = np.array(sim)
    pts = np.array([p for lst in pts_lists for p in lst])
    ax.plot(sim[:, 0], sim[:, 1], ls='--', color=color, lw=1.2, label='Numerical simulation')
    ax.scatter(pts[:, 0], pts[:, 1], s=32, color=color, alpha=alpha, edgecolors='none', label=label)
    ax.plot([mark[0]], [mark[1]], 'o', color='y', ms=11.5, ls='none', label='100 ns', zorder=4)
    ax.plot([plus[0]], [plus[1]], '+', color='k', ms=13, mew=2, zorder=5)
    for tail, tip in arrows:
        ax.annotate('', xy=tip, xytext=tail,
                    arrowprops=dict(arrowstyle='-|>', color=color, alpha=arrow_alpha, lw=2,
                                    mutation_scale=16, shrinkA=0, shrinkB=0))
    ax.set_xlim(xlim)
    ax.set_ylim(-10.94, 7.15)
    ax.set_xticks([-4, -2, 0, 2, 4, 6])
    ax.set_yticks([5.0, 2.5, 0.0, -2.5, -5.0, -7.5, -10.0])
    ax.set_yticklabels(['5.0', '2.5', '0.0', '\u22122.5', '\u22125.0', '\u22127.5', '\u221210.0'])
    ax.tick_params(labelsize=11.5)
    ax.set_xlabel(r'$I$ (mV)', fontsize=13, math_fontfamily='dejavusans')
    ax.set_ylabel(r'$Q$ (mV)', fontsize=13, math_fontfamily='dejavusans')
    ax.yaxis.set_label_coords(ylab_x, 0.5)
    ax.legend(fontsize=9.5, labelspacing=0.3, loc='upper left',
              bbox_to_anchor=(leg_xy[0] / W, 1 - leg_xy[1] / H), bbox_transform=fig.transFigure,
              borderaxespad=0)


iq_panel(ax_c, c_sim, [c_traj, c_origin, c_origin_core, c_steady, c_steady_core], C1, 0.35,
         c_mark_100, (0.0, 0.0), c_arrows, r'CD, $t_\mathrm{f}$= 100 ns', 0.7,
         (-5.18, 7.15), (84.5, 842.7), -0.135)
iq_panel(ax_d, d_sim, [d_traj, d_origin, d_origin_core, d_steady, d_steady_core], C3, 0.32,
         d_mark_100, (0.05, 0.05), d_arrows, 'sin\u00b2, $t_\\mathrm{f}$= 100 ns', 0.85,
         (-5.23, 7.54), (569, 842.7), -0.1445)

# panel letters
fig.text(22 / W, 1 - 45 / H, 'a', fontsize=23, va='baseline')
fig.text(21 / W, 1 - 426.7 / H, 'b', fontsize=23, va='baseline')
fig.text(21 / W, 1 - 833.3 / H, 'c', fontsize=23, va='baseline')
fig.text(507 / W, 1 - 832.7 / H, 'd', fontsize=23, va='baseline')

fig.savefig('out.png', dpi=100)
